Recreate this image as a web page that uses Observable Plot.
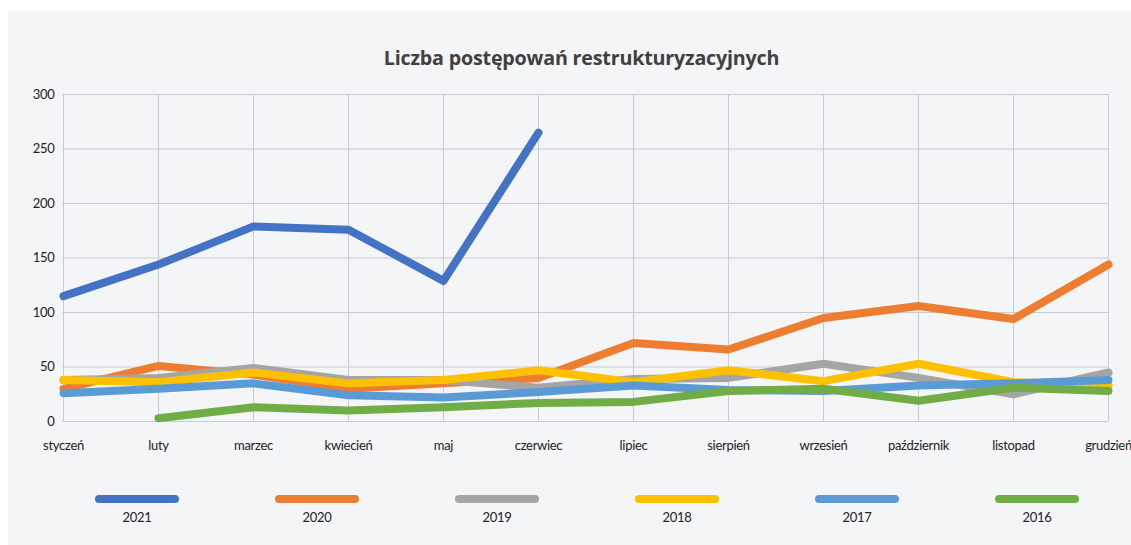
<!DOCTYPE html>
<html>
<head>
<meta charset="utf-8">
<script src="https://cdn.jsdelivr.net/npm/d3@7"></script>
<script src="https://cdn.jsdelivr.net/npm/@observablehq/plot@0.6"></script>
<style>
  html, body { margin: 0; padding: 0; background: #ffffff; }
  #panel { position: absolute; left: 8px; top: 11px; width: 1123px; height: 534px; background: #f4f5f7; overflow: hidden; }
  #title { position: absolute; left: 12px; width: 1123px; top: 33px; text-align: center; font-family: "Open Sans", sans-serif; font-weight: 700; font-size: 19.7px; color: #404040; letter-spacing: -0.2px; }
  #chart { position: absolute; left: 0; top: 69px; }
  #chart svg { overflow: visible; }
  #legend { position: absolute; left: 39px; top: 484px; display: flex; }
  .item { width: 180px; display: flex; flex-direction: column; align-items: center; }
  .sw { width: 84px; height: 8px; border-radius: 4px; }
  .lab { margin-top: 6px; font-family: Lato, sans-serif; font-size: 13px; color: #222; letter-spacing: -0.3px; }
</style>
</head>
<body>
<div id="panel">
  <div id="title">Liczba postępowań restrukturyzacyjnych</div>
  <div id="chart"></div>
  <div id="legend"></div>
</div>
<script>
const months = ["styczeń","luty","marzec","kwiecień","maj","czerwiec","lipiec","sierpień","wrzesień","październik","listopad","grudzień"];
const years = ["2021","2020","2019","2018","2017","2016"];
const colors = ["#4472c4","#ed7d31","#a5a5a5","#ffc000","#5b9bd5","#70ad47"];
const yTicks = [0,50,100,150,200,250,300];
const v2021 = [115,144,179,176,129,265,null,null,null,null,null,null];
const v2020 = [30,51,43,30,35,40,72,66,95,106,94,144];
const v2019 = [38,40,49,38,38,31,39,40,53,40,25,45];
const v2018 = [38,36,45,35,38,47,36,47,37,53,36,33];
const v2017 = [26,30,35,24,22,27,33,29,28,33,35,38];
const v2016 = [null,3,13,10,13,17,18,28,30,19,31,28];

const series = [v2021, v2020, v2019, v2018, v2017, v2016];
const data = [];
series.forEach((vals, i) => vals.forEach((v, j) => data.push({year: years[i], month: months[j], value: v})));

const chart = Plot.plot({
  width: 1123,
  height: 380,
  marginLeft: 54,
  marginRight: 23,
  marginTop: 14,
  marginBottom: 39,
  style: {background: "transparent", fontFamily: "Lato, sans-serif", fontSize: "13px", color: "#222", letterSpacing: "-0.3px", overflow: "visible"},
  x: {type: "point", domain: months, padding: 0, label: null, tickSize: 0, tickPadding: 19},
  y: {domain: [0, 300], ticks: yTicks, label: null, tickSize: 0, tickPadding: 8},
  color: {domain: years, range: colors},
  marks: [
    Plot.gridY(yTicks, {stroke: "#c9cbd4", strokeOpacity: 1}),
    Plot.gridX(months, {stroke: "#c9cbd4", strokeOpacity: 1}),
    Plot.line(data, {x: "month", y: "value", z: "year", stroke: "year", strokeWidth: 8, strokeLinecap: "round", strokeLinejoin: "round"})
  ]
});
document.getElementById("chart").appendChild(chart);

const legend = document.getElementById("legend");
years.forEach((y, i) => {
  const it = document.createElement("div");
  it.className = "item";
  it.innerHTML = `<div class="sw" style="background:${colors[i]}"></div><div class="lab">${y}</div>`;
  legend.appendChild(it);
});
</script>
</body>
</html>
